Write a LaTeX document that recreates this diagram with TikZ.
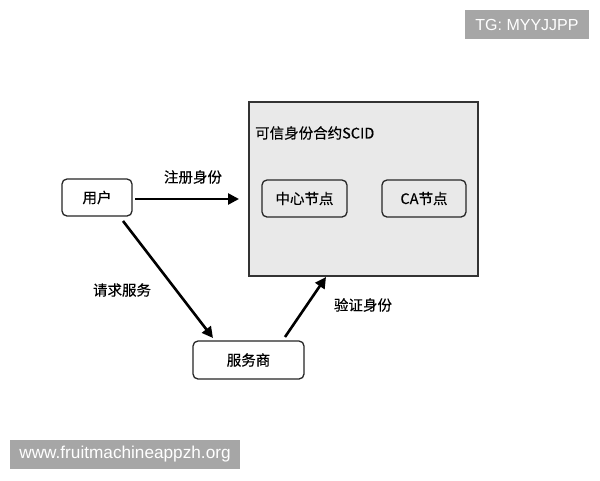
\documentclass[tikz,border=0pt]{standalone}
\usepackage{fontspec}
\setmainfont{Liberation Sans}
\newfontfamily\cjk[FakeBold=0.4]{Noto Sans CJK SC}
\usetikzlibrary{arrows.meta}
\definecolor{boxgray}{HTML}{E9E9E9}
\definecolor{wmgray}{HTML}{A6A6A6}
\begin{document}
\begin{tikzpicture}[x=1pt,y=-1pt,
  rbox/.style={draw=black!85,line width=1.3pt,rounded corners=5pt,fill=white,inner sep=0pt,font=\cjk\fontsize{14.5}{16}\selectfont},
  ibox/.style={draw=black!85,line width=1.3pt,rounded corners=5pt,fill=boxgray,inner sep=0pt,font=\cjk\fontsize{14.5}{16}\selectfont},
  conn/.style={line width=2.6pt,-{Triangle[length=11pt,width=11pt]}},
  lbl/.style={font=\cjk\fontsize{14.5}{16}\selectfont,inner sep=0pt},
  wm/.style={fill=wmgray,text=white,inner sep=0pt}]
\useasboundingbox (0,0) rectangle (600,480);
\fill[white] (0,0) rectangle (600,480);
% watermarks
\node[wm,minimum width=124pt,minimum height=29pt,font=\fontsize{16}{18}\selectfont] (tg) at (527,24.5) {TG: MYYJJPP};
\node[wm,minimum width=230pt,minimum height=29pt,font=\fontsize{17.2}{19}\selectfont] (www) at (125,454.5) {www.fruitmachineappzh.org};
% big box
\node[draw=black!80,line width=1.2pt,fill=boxgray,minimum width=229pt,minimum height=174pt,inner sep=0pt] (scid) at (363.5,189) {};
\node[lbl,anchor=west] (title) at (255,133) {可信身份合约SCID};
\node[ibox,minimum width=85pt,minimum height=37pt] (center) at (304.5,198.5) {中心节点};
\node[ibox,minimum width=84pt,minimum height=37pt] (ca) at (424,198.5) {CA节点};
% user and provider
\node[rbox,minimum width=70pt,minimum height=37pt] (user) at (97,197.5) {用户};
\node[rbox,minimum width=111pt,minimum height=38pt] (sp) at (248.5,360) {服务商};
% connector endpoints
\coordinate (a1s) at (135,199);
\coordinate (a1e) at (239,199);
\coordinate (a2s) at (123,221);
\coordinate (a2e) at (213,338);
\coordinate (a3s) at (285,337);
\coordinate (a3e) at (326,277);
\draw[conn] (a1s) -- (a1e);
\draw[conn] (a2s) -- (a2e);
\draw[conn] (a3s) -- (a3e);
\node[lbl] (l1) at (193,177) {注册身份};
\node[lbl] (l2) at (122,290) {请求服务};
\node[lbl] (l3) at (363,305) {验证身份};
\end{tikzpicture}
\end{document}
